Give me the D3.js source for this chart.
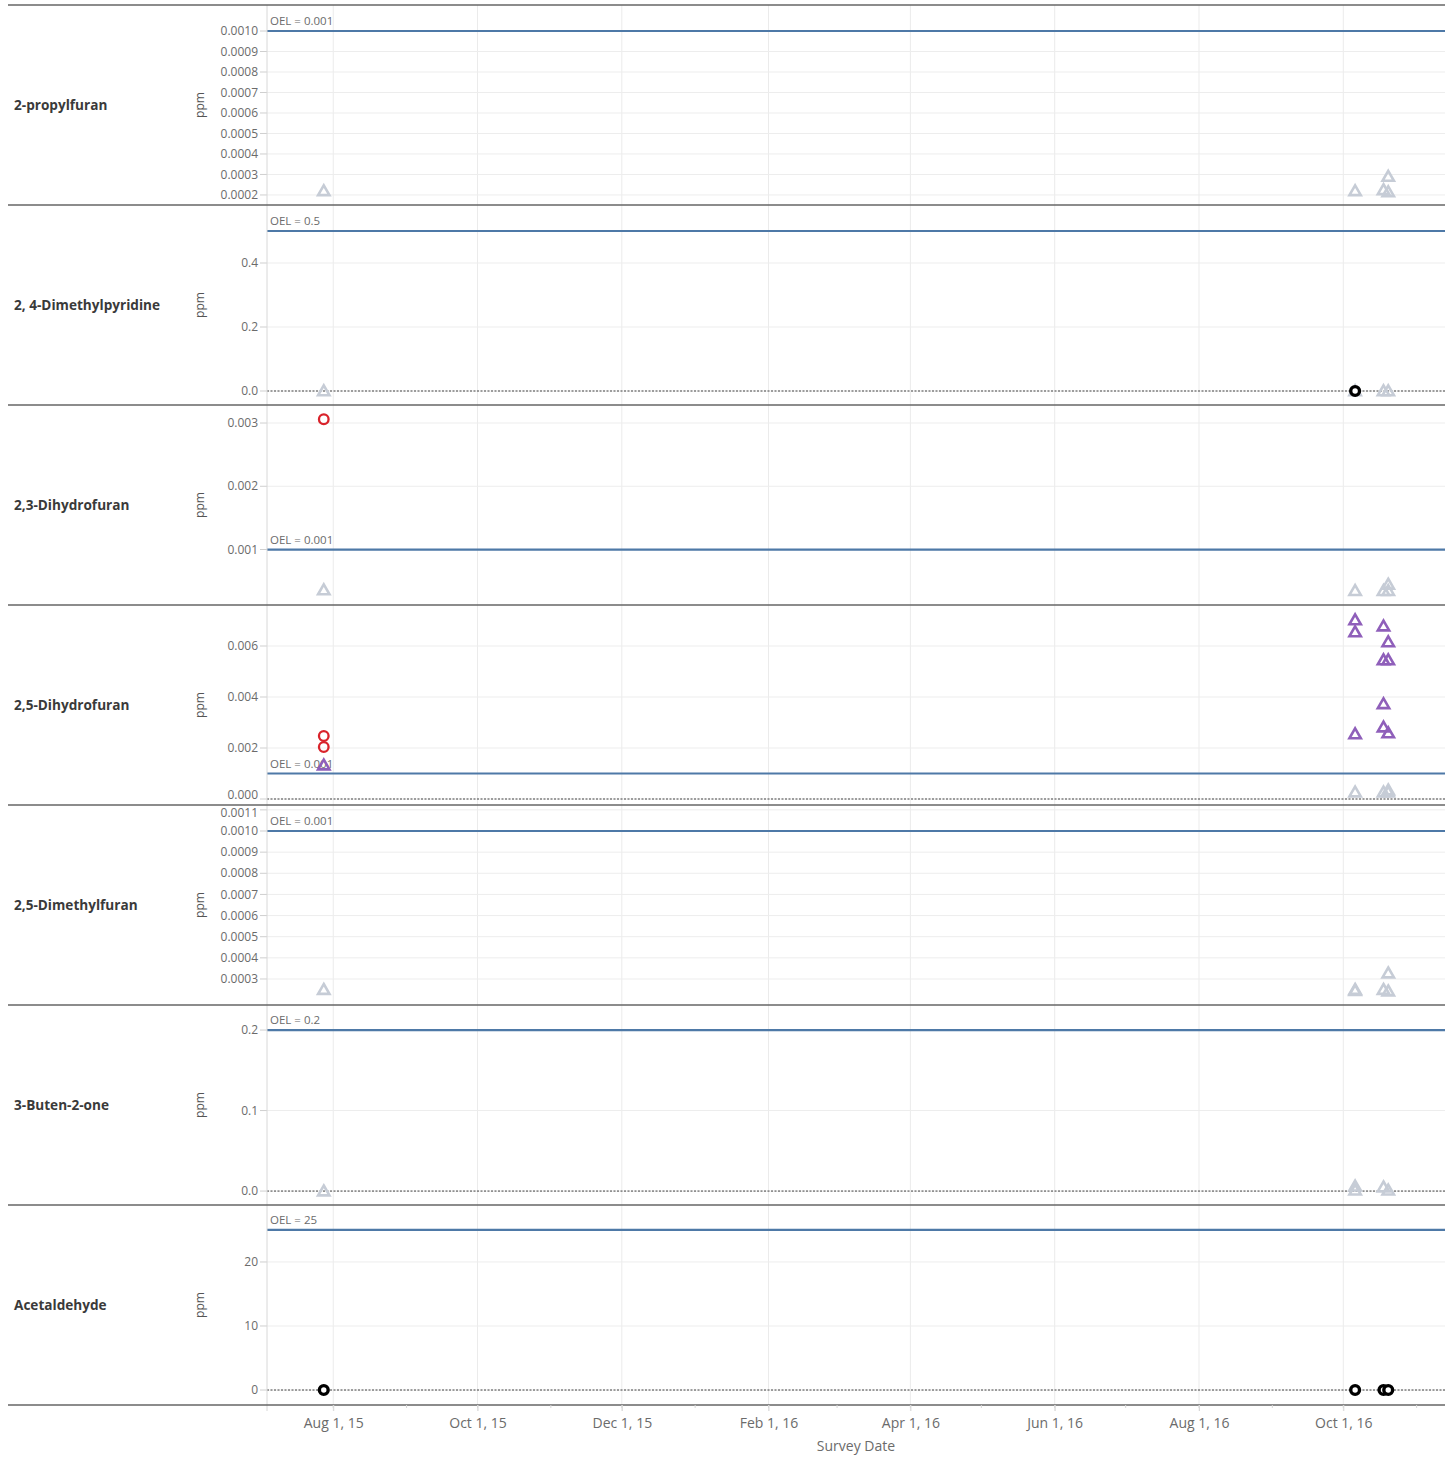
<!DOCTYPE html>
<html>
<head>
<meta charset="utf-8">
<script src="https://cdn.jsdelivr.net/npm/d3@7"></script>
<style>
  body { margin: 0; background: #fff; }
  text { font-family: "Open Sans", "Noto Sans", sans-serif; }
</style>
</head>
<body>
<svg id="chart"></svg>
<script>
// compounds, one row of the chart each
const compounds = ["2-propylfuran", "2, 4-Dimethylpyridine", "2,3-Dihydrofuran", "2,5-Dihydrofuran",
  "2,5-Dimethylfuran", "3-Buten-2-one", "Acetaldehyde"];
const oelValues = [0.001, 0.5, 0.001, 0.001, 0.001, 0.2, 25];
const oelLabels = ["0.001", "0.5", "0.001", "0.001", "0.001", "0.2", "25"];

// y ranges
const yMin = [0.000151, -0.04375, 0.000123, -0.000235, 0.000177, -0.0173, -2.34];
const yMax = [0.001127, 0.58125, 0.003285, 0.007608, 0.001123, 0.2311, 28.9];
const yTickValues = [
  [0.0002, 0.0003, 0.0004, 0.0005, 0.0006, 0.0007, 0.0008, 0.0009, 0.0010],
  [0, 0.2, 0.4],
  [0.001, 0.002, 0.003],
  [0, 0.002, 0.004, 0.006],
  [0.0003, 0.0004, 0.0005, 0.0006, 0.0007, 0.0008, 0.0009, 0.0010, 0.0011],
  [0, 0.1, 0.2],
  [0, 10, 20]
];
const yTickFormats = [".4f", ".1f", ".3f", ".3f", ".4f", ".1f", "d"];

// x axis
const dateDomain = ["2015-07-04", "2016-11-13"];
const xTickDates = ["2015-08-01", "2015-10-01", "2015-12-01", "2016-02-01", "2016-04-01",
  "2016-06-01", "2016-08-01", "2016-10-01"];
const surveyDates = ["2015-07-28", "2016-10-06", "2016-10-18", "2016-10-20"];

// samples: [compound index, survey date index, ppm]
const belowLimit = [
  [0, 0, 0.00022], [0, 1, 0.00022], [0, 2, 0.000225], [0, 3, 0.00029], [0, 3, 0.000215],
  [1, 0, 0], [1, 1, 0], [1, 2, 0], [1, 3, 0],
  [2, 0, 0.00036], [2, 1, 0.00035], [2, 2, 0.00035], [2, 3, 0.00045], [2, 3, 0.00035],
  [3, 1, 0.00027], [3, 2, 0.00027], [3, 3, 0.00035], [3, 3, 0.00027],
  [4, 0, 0.00025], [4, 1, 0.00025], [4, 1, 0.000245], [4, 2, 0.00025], [4, 3, 0.000243], [4, 3, 0.000328],
  [5, 0, 0], [5, 1, 0.006], [5, 1, 0.001], [5, 2, 0.005], [5, 3, 0.001]
];
const detected = [
  [3, 0, 0.00133],
  [3, 1, 0.00702], [3, 1, 0.00655], [3, 1, 0.00255],
  [3, 2, 0.00678], [3, 2, 0.00545], [3, 2, 0.00373], [3, 2, 0.00282],
  [3, 3, 0.00616], [3, 3, 0.00545], [3, 3, 0.00259]
];
const overOel = [[2, 0, 0.00306], [3, 0, 0.00247], [3, 0, 0.00204]];
const zeroResults = [[1, 1, 0], [6, 0, 0], [6, 1, 0], [6, 2, 0], [6, 3, 0]];

const width = 1453, height = 1457;
const plotLeft = 267, plotRight = 1445;
const rowTop = 5, rowHeight = 200;
const axisY = rowTop + rowHeight * compounds.length;

const parse = d3.utcParse("%Y-%m-%d");
const x = d3.scaleUtc().domain(dateDomain.map(parse)).range([plotLeft, plotRight]);

const svg = d3.select("#chart").attr("width", width).attr("height", height);

// vertical grid at labelled months
svg.append("g").selectAll("line").data(xTickDates.map(parse)).enter().append("line")
  .attr("x1", d => x(d)).attr("x2", d => x(d))
  .attr("y1", rowTop).attr("y2", axisY + 6)
  .attr("stroke", "#ebebeb").attr("stroke-width", 1);

const ys = compounds.map((c, i) => d3.scaleLinear()
  .domain([yMin[i], yMax[i]])
  .range([rowTop + rowHeight * (i + 1), rowTop + rowHeight * i]));

compounds.forEach((name, i) => {
  const y = ys[i];
  const top = rowTop + rowHeight * i, bottom = top + rowHeight;
  const g = svg.append("g");
  const fmt = d3.format(yTickFormats[i]);

  // horizontal grid + ticks
  g.selectAll(".grid").data(yTickValues[i]).enter().append("line")
    .attr("x1", plotLeft).attr("x2", plotRight)
    .attr("y1", d => y(d)).attr("y2", d => y(d))
    .attr("stroke", "#ededed");
  g.selectAll(".tick").data(yTickValues[i]).enter().append("line")
    .attr("x1", plotLeft - 7).attr("x2", plotLeft)
    .attr("y1", d => y(d)).attr("y2", d => y(d))
    .attr("stroke", "#cfcfcf");
  g.selectAll(".lab").data(yTickValues[i]).enter().append("text")
    .attr("x", plotLeft - 9)
    .attr("y", d => Math.max(top + 8, Math.min(bottom - 10, y(d))))
    .attr("dy", "0.35em").attr("text-anchor", "end")
    .attr("font-size", 12).attr("fill", "#6b6b6b")
    .text(d => fmt(d));

  // zero reference line
  if (yMin[i] < 0) {
    g.append("line")
      .attr("x1", plotLeft).attr("x2", plotRight)
      .attr("y1", y(0)).attr("y2", y(0))
      .attr("stroke", "#444").attr("stroke-width", 1).attr("stroke-dasharray", "2,1.5");
  }

  // OEL line + label
  g.append("line")
    .attr("x1", plotLeft).attr("x2", plotRight)
    .attr("y1", y(oelValues[i])).attr("y2", y(oelValues[i]))
    .attr("stroke", "#4e79a7").attr("stroke-width", 2.2);
  g.append("text")
    .attr("x", plotLeft + 3).attr("y", y(oelValues[i]) - 6)
    .attr("font-size", 11.5).attr("fill", "#6b6b6b")
    .text("OEL = " + oelLabels[i]);

  // row header
  g.append("text")
    .attr("x", 14).attr("y", (top + bottom) / 2).attr("dy", "0.35em")
    .attr("font-size", 13.6).attr("font-weight", "bold").attr("fill", "#3a3a3a")
    .text(name);
  g.append("text")
    .attr("transform", `translate(${204},${(top + bottom) / 2}) rotate(-90)`)
    .attr("text-anchor", "middle")
    .attr("font-size", 12).attr("fill", "#555")
    .text("ppm");
});

// marks
const px = d => x(parse(surveyDates[d[1]]));
const py = d => ys[d[0]](d[2]);
const tri = d3.symbol().type(d3.symbolTriangle).size(56);

svg.append("g").selectAll("path").data(belowLimit).enter().append("path")
  .attr("d", tri)
  .attr("transform", d => `translate(${px(d)},${py(d) + 1})`)
  .attr("fill", "none").attr("stroke", "#c6ccd6").attr("stroke-width", 2.6);

svg.append("g").selectAll("path").data(detected).enter().append("path")
  .attr("d", tri)
  .attr("transform", d => `translate(${px(d)},${py(d) + 1})`)
  .attr("fill", "none").attr("stroke", "#8f5fba").attr("stroke-width", 2.6);

svg.append("g").selectAll("circle").data(overOel).enter().append("circle")
  .attr("cx", px).attr("cy", py).attr("r", 4.8)
  .attr("fill", "none").attr("stroke", "#d9232b").attr("stroke-width", 2.3);

svg.append("g").selectAll("circle").data(zeroResults).enter().append("circle")
  .attr("cx", px).attr("cy", py).attr("r", 4.4)
  .attr("fill", "#fff").attr("stroke", "#000").attr("stroke-width", 3.4);

// y axis line
svg.append("line")
  .attr("x1", plotLeft).attr("x2", plotLeft)
  .attr("y1", rowTop).attr("y2", axisY + 6)
  .attr("stroke", "#d8d8d8");

// row separators
svg.append("g").selectAll("line").data(d3.range(compounds.length + 1)).enter().append("line")
  .attr("x1", 8).attr("x2", plotRight)
  .attr("y1", i => rowTop + rowHeight * i).attr("y2", i => rowTop + rowHeight * i)
  .attr("stroke", "#666").attr("stroke-width", 1.4);

// x axis
const xAxis = d3.axisBottom(x)
  .tickValues(xTickDates.map(parse))
  .tickFormat(d3.utcFormat("%b %-d, %y"))
  .tickSize(6).tickPadding(7);
const ax = svg.append("g").attr("transform", `translate(0,${axisY})`).call(xAxis);
ax.select(".domain").remove();
ax.selectAll(".tick line").attr("stroke", "#d8d8d8");
ax.selectAll(".tick text").attr("font-size", 14).attr("fill", "#6b6b6b")
  .attr("font-family", "'Open Sans', sans-serif");

// minor monthly ticks
svg.append("g").selectAll("line").data(d3.utcMonth.range(parse("2015-08-01"), parse("2016-11-02"))).enter().append("line")
  .attr("x1", d => x(d)).attr("x2", d => x(d))
  .attr("y1", axisY).attr("y2", axisY + 3)
  .attr("stroke", "#d8d8d8");

svg.append("text")
  .attr("x", (plotLeft + plotRight) / 2).attr("y", axisY + 46)
  .attr("text-anchor", "middle").attr("font-size", 14).attr("fill", "#6b6b6b")
  .text("Survey Date");
</script>
</body>
</html>
